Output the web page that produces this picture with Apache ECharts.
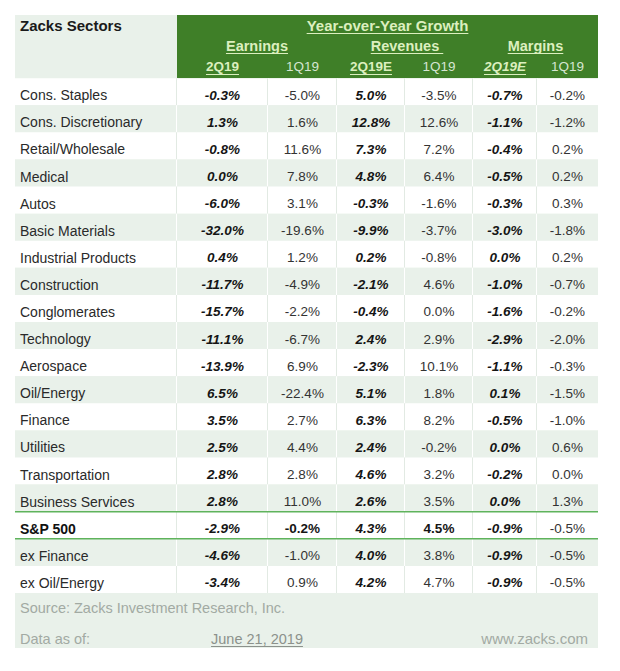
<!DOCTYPE html>
<html><head><meta charset="utf-8">
<script src="https://cdn.jsdelivr.net/npm/echarts@6/dist/echarts.min.js"></script>
<style>html,body{margin:0;padding:0;background:#fff}#c{width:620px;height:671px}</style>
</head><body><div id="c"></div>
<script>
// ---------- data ----------
const sectors = ['Cons. Staples','Cons. Discretionary','Retail/Wholesale','Medical','Autos','Basic Materials','Industrial Products','Construction','Conglomerates','Technology','Aerospace','Oil/Energy','Finance','Utilities','Transportation','Business Services','S&P 500','ex Finance','ex Oil/Energy'];
const earnings2Q19  = [-0.3, 1.3, -0.8, 0.0, -6.0, -32.0, 0.4, -11.7, -15.7, -11.1, -13.9, 6.5, 3.5, 2.5, 2.8, 2.8, -2.9, -4.6, -3.4];
const earnings1Q19  = [-5.0, 1.6, 11.6, 7.8, 3.1, -19.6, 1.2, -4.9, -2.2, -6.7, 6.9, -22.4, 2.7, 4.4, 2.8, 11.0, -0.2, -1.0, 0.9];
const revenues2Q19E = [5.0, 12.8, 7.3, 4.8, -0.3, -9.9, 0.2, -2.1, -0.4, 2.4, -2.3, 5.1, 6.3, 2.4, 4.6, 2.6, 4.3, 4.0, 4.2];
const revenues1Q19  = [-3.5, 12.6, 7.2, 6.4, -1.6, -3.7, -0.8, 4.6, 0.0, 2.9, 10.1, 1.8, 8.2, -0.2, 3.2, 3.5, 4.5, 3.8, 4.7];
const margins2Q19E  = [-0.7, -1.1, -0.4, -0.5, -0.3, -3.0, 0.0, -1.0, -1.6, -2.9, -1.1, 0.1, -0.5, 0.0, -0.2, 0.0, -0.9, -0.9, -0.9];
const margins1Q19   = [-0.2, -1.2, 0.2, 0.2, 0.3, -1.8, 0.2, -0.7, -0.2, -2.0, -0.3, -1.5, -1.0, 0.6, 0.0, 1.3, -0.5, -0.5, -0.5];

const tableTitle = 'Zacks Sectors';
const groupTitle = 'Year-over-Year Growth';
const metricLabels = ['Earnings', 'Revenues', 'Margins'];
const periodLabels = ['2Q19', '1Q19', '2Q19E', '1Q19', '2Q19E', '1Q19'];
const sourceText = 'Source: Zacks Investment Research, Inc.';
const asOfLabel = 'Data as of:';
const asOfDate = 'June 21, 2019';
const siteText = 'www.zacks.com';
const totalRowName = 'S&P 500';

// ---------- layout / style ----------
const FONT = "'Liberation Sans', Arial, sans-serif";
const TABLE_W = 583;
const colEdges = [0, 162, 253, 322, 390, 458, 522, 583];
const Y_TOP = -2.33, Y_BOTTOM = 21.03;
const headerLineY = [-1.94, -1.2, -0.42];
const footerLineY = [19.54, 20.69];
const GREEN = '#3f7f28', LIGHT = '#e9f1ea', SEP_ON_WHITE = '#e2eae3', RULE = '#5fb35c';
const HEAD_HI = '#dcefbf', HEAD_LO = '#d6e6d2';
const periodStyle = [
  {weight:'bold', italic:false, ul:true, fill:HEAD_HI},
  {weight:'normal', italic:false, ul:false, fill:HEAD_LO},
  {weight:'bold', italic:false, ul:true, fill:HEAD_HI},
  {weight:'normal', italic:false, ul:false, fill:HEAD_LO},
  {weight:'bold', italic:true, ul:true, fill:HEAD_HI},
  {weight:'normal', italic:false, ul:false, fill:HEAD_LO}
];
const valueCols = [earnings2Q19, earnings1Q19, revenues2Q19E, revenues1Q19, margins2Q19E, margins1Q19];
const emphCols = [true, false, true, false, true, false];

const mctx = document.createElement('canvas').getContext('2d');
function textW(t, size, weight, italic) {
  mctx.font = (italic ? 'italic ' : '') + weight + ' ' + size + 'px ' + FONT;
  return mctx.measureText(t).width;
}
function fmt(v) { return v.toFixed(1) + '%'; }

// ---------- body cells ----------
const spIndex = sectors.indexOf(totalRowName);
const bodyData = [];
sectors.forEach((s, r) => { for (let c = 0; c < 7; c++) bodyData.push([c, r]); });

function renderBody(params, api) {
  const c = api.value(0), r = api.value(1);
  const p0 = api.coord([colEdges[c], r]);
  const p1 = api.coord([colEdges[c + 1], r + 1]);
  const x = p0[0], y = p0[1], w = p1[0] - p0[0], h = p1[1] - p0[1];
  const shaded = r % 2 === 1;
  const children = [{type:'rect', shape:{x, y, width:w, height:h}, style:{fill: shaded ? LIGHT : '#ffffff'}}];
  if (c < 6) children.push({type:'rect', shape:{x: x + w - 1, y, width:2, height:h}, style:{fill: shaded ? '#ffffff' : SEP_ON_WHITE}});
  const ty = y + h * 0.63;
  if (c === 0) {
    children.push({type:'text', style:{text: sectors[r], x: x + 5, y: ty, align:'left', verticalAlign:'middle',
      fontSize: 14, fontFamily: FONT, fontWeight: r === spIndex ? 'bold' : 'normal', fill: r === spIndex ? '#111' : '#2a2a2a'}});
  } else {
    const emph = emphCols[c - 1];
    const spBold = r === spIndex && (c === 2 || c === 4);
    children.push({type:'text', style:{text: fmt(valueCols[c - 1][r]), x: x + w / 2, y: ty, align:'center', verticalAlign:'middle',
      fontSize: 13.5, fontFamily: FONT, fontWeight: (emph || spBold) ? 'bold' : 'normal', fontStyle: emph ? 'italic' : 'normal',
      fill: (emph || spBold) ? '#151515' : '#333333'}});
  }
  return {type:'group', children};
}

// ---------- header / footer items ----------
const frameItems = [];
frameItems.push({kind:'rect', x0:0, x1:TABLE_W, y0:Y_TOP, y1:Y_BOTTOM, fill:LIGHT});
frameItems.push({kind:'rect', x0:colEdges[1], x1:TABLE_W, y0:Y_TOP, y1:0, fill:GREEN});
frameItems.push({kind:'text', text:tableTitle, x:5, y:headerLineY[0], align:'left', size:15, weight:'bold', fill:'#1a1a1a'});
frameItems.push({kind:'text', text:groupTitle, x:(colEdges[1] + TABLE_W) / 2, y:headerLineY[0], align:'center', size:15, weight:'bold', fill:HEAD_HI, ul:true});
metricLabels.forEach((m, i) => {
  const a = colEdges[1 + 2 * i], b = colEdges[3 + 2 * i];
  frameItems.push({kind:'text', text:m, x:(a + b) / 2, y:headerLineY[1], align:'center', size:14.5, weight:'bold', fill:HEAD_HI, ul:true, ulPad: i === 1 ? 4 : 0});
});
periodLabels.forEach((p, i) => {
  const st = periodStyle[i];
  frameItems.push({kind:'text', text:p, x:(colEdges[i + 1] + colEdges[i + 2]) / 2, y:headerLineY[2], align:'center', size:13.5,
    weight:st.weight, italic:st.italic, fill:st.fill, ul:st.ul});
});
frameItems.push({kind:'text', text:sourceText, x:5, y:footerLineY[0], align:'left', size:14.5, weight:'normal', fill:'#a2aaa3'});
frameItems.push({kind:'text', text:asOfLabel, x:5, y:footerLineY[1], align:'left', size:14.5, weight:'normal', fill:'#a2aaa3'});
frameItems.push({kind:'text', text:asOfDate, x:(colEdges[1] + colEdges[3]) / 2, y:footerLineY[1], align:'center', size:14.5, weight:'normal', fill:'#8c918c', ul:true});
frameItems.push({kind:'text', text:siteText, x:TABLE_W - 10, y:footerLineY[1], align:'right', size:15, weight:'normal', fill:'#a2aaa3'});

function renderFrame(params, api) {
  const it = frameItems[params.dataIndex];
  if (it.kind === 'rect') {
    const p0 = api.coord([it.x0, it.y0]), p1 = api.coord([it.x1, it.y1]);
    return {type:'rect', shape:{x:p0[0], y:p0[1], width:p1[0] - p0[0], height:p1[1] - p0[1]}, style:{fill:it.fill}};
  }
  const p = api.coord([it.x, it.y]);
  const children = [{type:'text', style:{text:it.text, x:p[0], y:p[1], align:it.align, verticalAlign:'middle',
    fontSize:it.size, fontFamily:FONT, fontWeight:it.weight, fontStyle:it.italic ? 'italic' : 'normal', fill:it.fill}}];
  if (it.ul) {
    const w = textW(it.text, it.size, it.weight, it.italic) + (it.ulPad || 0);
    let x0 = p[0];
    if (it.align === 'center') x0 = p[0] - (w - (it.ulPad || 0)) / 2;
    else if (it.align === 'right') x0 = p[0] - w;
    const uy = Math.round(p[1] + it.size * 0.5) + 0.5;
    children.push({type:'line', shape:{x1:x0, y1:uy, x2:x0 + w, y2:uy}, style:{stroke:it.fill, lineWidth:1.2}});
  }
  return {type:'group', children};
}

// ---------- total row rules ----------
function renderRules(params, api) {
  const r = api.value(1);
  const a0 = api.coord([0, r]), a1 = api.coord([TABLE_W, r]);
  const b0 = api.coord([0, r + 1]), b1 = api.coord([TABLE_W, r + 1]);
  return {type:'group', children:[
    {type:'line', shape:{x1:a0[0], y1:a0[1], x2:a1[0], y2:a1[1]}, style:{stroke:RULE, lineWidth:1.6}},
    {type:'line', shape:{x1:b0[0], y1:b0[1], x2:b1[0], y2:b1[1]}, style:{stroke:RULE, lineWidth:1.6}}
  ]};
}

const chart = echarts.init(document.getElementById('c'), null, {renderer:'svg', width:620, height:671});
chart.setOption({
  animation:false,
  backgroundColor:'#ffffff',
  grid:{left:15, top:15, width:TABLE_W, height:633, containLabel:false},
  xAxis:{type:'value', min:0, max:TABLE_W, show:false},
  yAxis:{type:'value', inverse:true, min:Y_TOP, max:Y_BOTTOM, show:false},
  series:[
    {type:'custom', name:'frame', z:1, renderItem:renderFrame, data:frameItems.map(() => [0, 0]), silent:true},
    {type:'custom', name:'cells', z:2, renderItem:renderBody, data:bodyData, silent:true},
    {type:'custom', name:'rules', z:3, renderItem:renderRules, data:[[0, spIndex]], silent:true}
  ]
});
</script></body></html>
